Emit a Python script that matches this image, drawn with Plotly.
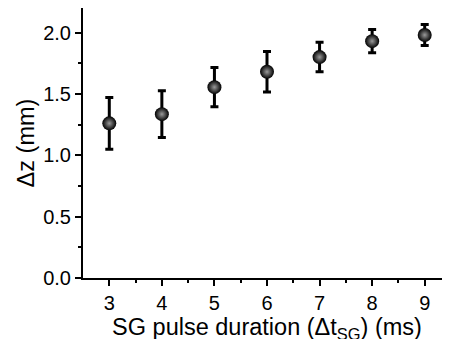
import plotly.graph_objects as go

durations = [3, 4, 5, 6, 7, 8, 9]
dz = [1.26, 1.335, 1.555, 1.68, 1.80, 1.93, 1.98]
dz_err = [0.21, 0.19, 0.16, 0.165, 0.12, 0.095, 0.085]

fig = go.Figure()
fig.add_trace(go.Scatter(
    x=durations, y=dz, mode="markers",
    error_y=dict(type="data", array=dz_err, visible=True, color="black",
                 thickness=3, width=4),
    marker=dict(size=14, color="black", line=dict(width=0),
                gradient=dict(type="radial", color="#9a9a9a")),
))

font_family = "Liberation Sans, Arial, sans-serif"
# page body adds an 8px offset, so margins are reduced by 8
fig.update_layout(
    width=450, height=339,
    margin=dict(l=75, r=7, t=0, b=69),
    plot_bgcolor="white", paper_bgcolor="white",
    showlegend=False,
    font=dict(family=font_family, size=20, color="black"),
)
fig.update_xaxes(
    range=[2.5, 9.5], tickvals=durations, ticktext=[str(d) for d in durations],
    showgrid=False, zeroline=False, automargin=False,
    showline=True, linecolor="black", linewidth=2, mirror=True,
    ticks="outside", ticklen=6, tickwidth=2, tickcolor="black",
    minor=dict(tickvals=[3.5, 4.5, 5.5, 6.5, 7.5, 8.5], ticks="outside", ticklen=3, tickwidth=2, tickcolor="black"),
    title=dict(text="SG pulse duration (Δt<sub>SG</sub>) (ms)", standoff=0, font=dict(size=23.5)),
    tickfont=dict(size=20),
)
fig.update_yaxes(
    range=[0, 2.2], tickvals=[0, 0.5, 1.0, 1.5, 2.0],
    ticktext=["0.0", "0.5", "1.0", "1.5", "2.0"],
    showgrid=False, zeroline=False, automargin=False,
    showline=True, linecolor="black", linewidth=2,
    ticks="outside", ticklen=6, tickwidth=2, tickcolor="black",
    minor=dict(tickvals=[0.25, 0.75, 1.25, 1.75], ticks="outside", ticklen=3, tickwidth=2, tickcolor="black"),
    title=dict(text="Δz (mm)", standoff=2, font=dict(size=23.5)),
    tickfont=dict(size=20),
)

fig.write_html("out.html")
